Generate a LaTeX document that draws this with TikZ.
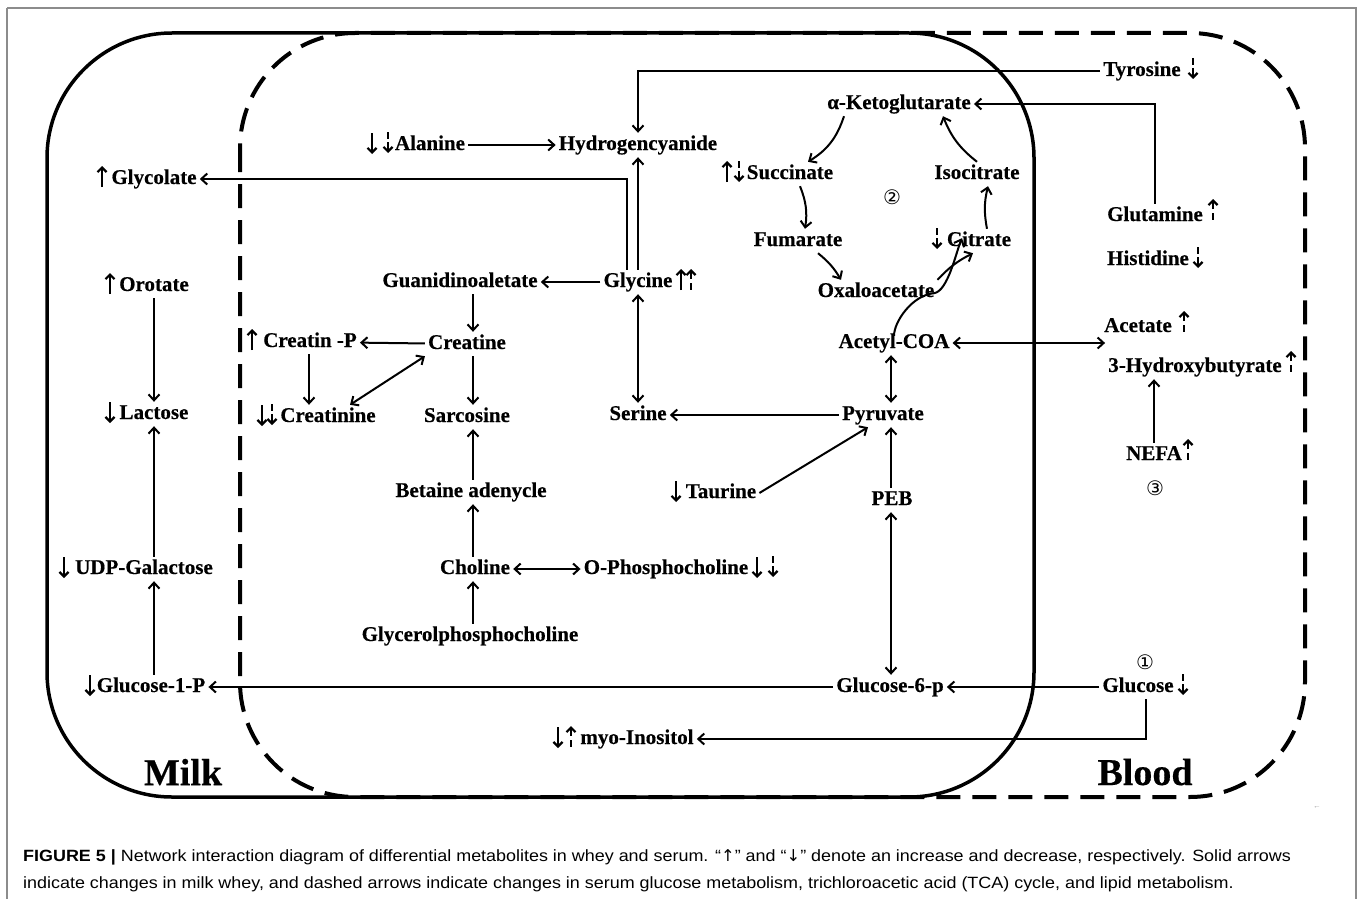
\documentclass[tikz,border=0pt]{standalone}
\usepackage{fontspec}
\setmainfont{Liberation Serif}[BoldFeatures={FakeBold=0.4}]
\newfontfamily\capfont{Liberation Sans}[FakeStretch=1.1]
\newfontfamily\symfont{DejaVu Sans}
\usetikzlibrary{arrows.meta,calc}
\tikzset{
  lbl/.style={font=\fontsize{21}{24}\selectfont\bfseries, inner sep=3pt, text height=14pt, text depth=4pt},
  big/.style={font=\fontsize{38}{40}\selectfont\bfseries, inner sep=0pt},
  circ/.style={font=\symfont\fontsize{20}{22}\selectfont, inner sep=0pt},
  conn/.style={line width=2pt, -{Straight Barb[length=6pt,width=11pt]}},
  dconn/.style={line width=2pt, {Straight Barb[length=6pt,width=11pt]}-{Straight Barb[length=6pt,width=11pt]}},
  mk/.style={line width=2.2pt, -{Straight Barb[length=4.5pt,width=9pt]}},
  mkd/.style={line width=2.2pt},
  milkbox/.style={line width=3.5pt, rounded corners=125pt},
  bloodbox/.style={line width=4pt, dash pattern=on 24pt off 12pt, rounded corners=115pt},
  frame/.style={line width=1.4pt, draw=black!45},
  captxt/.style={anchor=base west, inner sep=0pt, font=\capfont\fontsize{16.3}{18}\selectfont},
  pics/sup/.style={code={\draw[mk] (0,10) -- (0,-11);}},
  pics/sdown/.style={code={\draw[mk] (0,-10) -- (0,11);}},
  pics/dup/.style={code={\draw[mk] (0,-1) -- (0,-11); \draw[mkd] (0,3) -- (0,10);}},
  pics/ddown/.style={code={\draw[mkd] (0,-11) -- (0,-4); \draw[mk] (0,-1) -- (0,10);}},
}
\begin{document}
\begin{tikzpicture}[x=1pt,y=-1pt]
\useasboundingbox (0,0) rectangle (1360,899);
\draw[frame] (7,8) -- (1356,8) -- (1356,920);
\draw[frame] (7,8) -- (7,920);
% compartments
\draw[bloodbox] (240,33) rectangle (1305,797);
\draw[milkbox] (47,33) rectangle (1034,797);
\node[big] (milk) at (183,772) {Milk};
\node[big] (blood) at (1145,772) {Blood};
% column coordinates
\coordinate (mcol) at (154,0);
\coordinate (ccol) at (473,0);
\coordinate (pcol) at (891,0);
\coordinate (crpcol) at (309,0);
% nodes
\node[lbl] (ala) at (430,145) {Alanine};
\node[lbl] (hcn) at (638,145) {Hydrogencyanide};
\node[lbl] (tyr) at (1142,71) {Tyrosine};
\node[lbl] (akg) at (899,104) {α-Ketoglutarate};
\node[lbl] (succ) at (790,174) {Succinate};
\node[lbl] (iso) at (977,174) {Isocitrate};
\node[lbl] (fum) at (798,241) {Fumarate};
\node[lbl] (cit) at (979,241) {Citrate};
\node[lbl] (oxa) at (876,292) {Oxaloacetate};
\node[lbl] (glyc) at (154,179) {Glycolate};
\node[lbl] (gly) at (638,282) {Glycine};
\node[lbl] (guan) at (460,282) {Guanidinoaletate};
\node[lbl] (oro) at (154,286) {Orotate};
\node[lbl] (crp) at (310,342) {Creatin -P};
\node[lbl] (crea) at (467,344) {Creatine};
\node[lbl] (acoa) at (894,343) {Acetyl-COA};
\node[lbl] (pyr) at (883,415) {Pyruvate};
\node[lbl] (ser) at (638,415) {Serine};
\node[lbl] (crn) at (328,417) {Creatinine};
\node[lbl] (sar) at (467,417) {Sarcosine};
\node[lbl] (lac) at (154,414) {Lactose};
\node[lbl] (taur) at (721,493) {Taurine};
\node[lbl] (bet) at (471,492) {Betaine adenycle};
\node[lbl] (peb) at (892,500) {PEB};
\node[lbl] (nefa) at (1154,455) {NEFA};
\node[lbl] (acet) at (1138,327) {Acetate};
\node[lbl] (hb) at (1195,367) {3-Hydroxybutyrate};
\node[lbl] (glu) at (1155,216) {Glutamine};
\node[lbl] (his) at (1148,260) {Histidine};
\node[lbl] (udp) at (144,569) {UDP-Galactose};
\node[lbl] (chol) at (475,569) {Choline};
\node[lbl] (opc) at (666,569) {O-Phosphocholine};
\node[lbl] (gpc) at (470,636) {Glycerolphosphocholine};
\node[lbl] (g1p) at (151,687) {Glucose-1-P};
\node[lbl] (g6p) at (890,687) {Glucose-6-p};
\node[lbl] (glc) at (1138,687) {Glucose};
\node[lbl] (myo) at (637,739) {myo-Inositol};
\node[circ] (c1) at (1145,662) {①};
\node[circ] (c2) at (892,197) {②};
\node[circ] (c3) at (1155,488) {③};
% markers
\pic at (372,143) {sdown}; \pic at (388,143) {ddown};
\pic at (727,172) {sup}; \pic at (739,172) {ddown};
\pic at (937,239) {ddown};
\pic at (681,280) {sup}; \pic at (691,280) {dup};
\pic at (252,340) {sup};
\pic at (262,415) {sdown}; \pic at (272,415) {ddown};
\pic at (102,177) {sup};
\pic at (110,284) {sup};
\pic at (110,412) {sdown};
\pic at (676,491) {sdown};
\pic at (757,567) {sdown}; \pic at (773,567) {ddown};
\pic at (558,737) {sdown}; \pic at (571,737) {dup};
\pic at (64,567) {sdown};
\pic at (90,685) {sdown};
\pic at (1193,69) {ddown};
\pic at (1213,210) {dup};
\pic at (1198,258) {ddown};
\pic at (1184,322) {dup};
\pic at (1291,362) {dup};
\pic at (1188,450) {dup};
\pic at (1183,685) {ddown};
% connectors
\draw[conn] (ala) -- (hcn);
\draw[conn] (tyr.west) -| (hcn.north);
\draw[conn] (gly.north) -- (hcn.south);
\draw[conn] ([xshift=-11pt]gly.north) |- (glyc.east);
\draw[conn] (gly) -- (guan);
\draw[dconn] (gly) -- (ser);
\draw[conn] (pyr.west) -- (pyr.west -| ser.east);
\draw[dconn] (acoa.south -| pcol) -- (pyr.north -| pcol);
\draw[dconn] (acoa.east) -- (acoa.east -| hb.west);
\draw[conn] (taur.east) -- ([xshift=-15pt]pyr.south);
\draw[conn] (peb.north -| pcol) -- (pyr.south -| pcol);
\draw[dconn] (peb.south -| pcol) -- (g6p.north -| pcol);
\draw[conn] (glc) -- (g6p);
\draw[conn] (g6p) -- (g1p);
\draw[conn] ([xshift=8pt]glc.south) |- (myo.east);
\draw[conn] (glu.north) |- (akg.east);
\draw[conn] (nefa.north) -- (nefa.north |- hb.south);
\draw[conn] (oro.south -| mcol) -- (lac.north -| mcol);
\draw[conn] (udp.north -| mcol) -- (lac.south -| mcol);
\draw[conn] (g1p.north -| mcol) -- (udp.south -| mcol);
\draw[conn] (guan.south -| ccol) -- (crea.north -| ccol);
\draw[conn] (crea.south -| ccol) -- (sar.north -| ccol);
\draw[conn] (bet.north -| ccol) -- (sar.south -| ccol);
\draw[conn] (chol.north -| ccol) -- (bet.south -| ccol);
\draw[conn] (gpc.north -| ccol) -- (chol.south -| ccol);
\draw[dconn] (chol) -- (opc);
\draw[conn] (crea) -- (crp);
\draw[conn] (crp.south -| crpcol) -- (crn.north -| crpcol);
\draw[dconn] (crea.south west) -- ([xshift=22pt]crn.north);
% TCA cycle
\draw[conn] ([xshift=-55pt]akg.south) to[bend left=20] ([xshift=18pt]succ.north);
\draw[conn] ([xshift=10pt]succ.south) to[bend left=15] ([xshift=7pt]fum.north);
\draw[conn] ([xshift=20pt]fum.south) to[bend left=10] ([xshift=-35pt]oxa.north);
\draw[conn] (oxa.north east) to[bend left=10] ([xshift=-6pt]cit.south);
\draw[conn] ([xshift=8pt]cit.north) to[bend left=12] ([xshift=11pt]iso.south);
\draw[conn] (iso.north) to[bend left=15] ([xshift=44pt]akg.south);
\draw[conn] ([yshift=-5pt]acoa.north) .. controls +(0,-14) and +(-22,2) .. ([xshift=58pt,yshift=11pt]oxa.south)
  .. controls +(14,-2) and +(-6,14) .. ([xshift=-17pt,yshift=15pt]cit.south);
% caption
\node[captxt] (cap1) at (23,861)
 {\textbf{FIGURE 5 |} Network interaction diagram of differential metabolites in whey and serum. “{\symfont↑}” and “{\symfont↓}” denote an increase and decrease, respectively. Solid arrows};
\node[captxt] (cap2) at (23,888)
 {indicate changes in milk whey, and dashed arrows indicate changes in serum glucose metabolism, trichloroacetic acid (TCA) cycle, and lipid metabolism.};
\node[font=\capfont\fontsize{7}{8}\selectfont, text=black!40, inner sep=0pt] (tick) at (1317,808) {←};
\end{tikzpicture}
\end{document}
